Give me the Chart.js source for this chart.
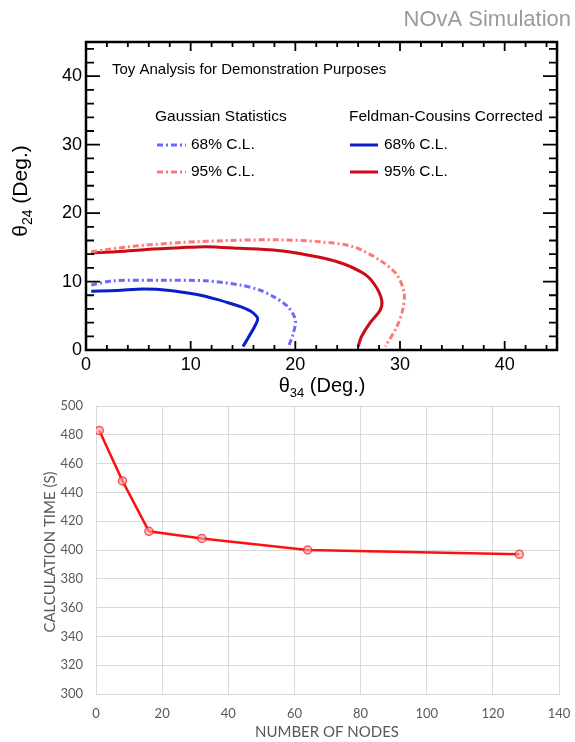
<!DOCTYPE html>
<html>
<head>
<meta charset="utf-8">
<script src="https://cdn.jsdelivr.net/npm/chart.js@4/dist/chart.umd.min.js"></script>
<style>
  html,body{margin:0;padding:0;background:#fff;}
  body{width:575px;height:742px;position:relative;overflow:hidden;}
  #c1{position:absolute;left:0;top:0;}
  #c2{position:absolute;left:0;top:400px;}
</style>
</head>
<body>
<canvas id="c1" width="575" height="400"></canvas>
<canvas id="c2" width="575" height="342"></canvas>
<script>
// ---------- Top chart data (theta34 vs theta24 contours, degrees) ----------
const fc68X = [0.5, 3.0, 5.5, 8.0, 10.6, 12.5, 13.8, 15.0, 15.8, 16.4, 16.1, 15.5, 15.0];
const fc68Y = [8.6, 8.7, 8.9, 8.7, 8.1, 7.4, 6.8, 6.2, 5.6, 4.6, 3.4, 1.8, 0.5];
const gs68X = [0.5, 2.6, 7.4, 11.5, 14.7, 16.5, 17.9, 19.3, 20.0, 19.8, 19.4];
const gs68Y = [9.5, 10.1, 10.2, 10.1, 9.5, 8.8, 7.8, 6.3, 4.4, 2.4, 0.7];
const fc95X = [0.5, 3.2, 5.8, 9.0, 11.5, 14.7, 17.9, 20.4, 24.0, 26.5, 27.6, 28.25, 28.1, 27.1, 26.3, 26.0];
const fc95Y = [14.2, 14.4, 14.7, 14.95, 15.1, 14.85, 14.6, 14.1, 12.9, 11.2, 9.5, 7.3, 5.8, 3.9, 1.9, 0.5];
const gs95X = [0.5, 4.2, 9.0, 13.8, 18.5, 22.4, 25.5, 28.1, 29.7, 30.4, 30.25, 29.7, 28.6];
const gs95Y = [14.35, 15.1, 15.7, 16.0, 16.1, 15.8, 15.1, 13.1, 11.0, 8.3, 5.8, 3.4, 0.5];
const topTickLabels = ['0', '10', '20', '30', '40'];

// ---------- Bottom chart data ----------
const nodes = [1, 8, 16, 32, 64, 128];
const calcTimes = [483, 448, 413, 408, 400, 397];
const bottomXTicks = ['0','20','40','60','80','100','120','140'];
const bottomYTicks = ['300','320','340','360','380','400','420','440','460','480','500'];

const pts = (xs, ys) => xs.map((x, i) => ({x: x, y: ys[i]}));

const C_BLUE = '#0a1ec8', C_RED = '#cc0a16', C_LBLUE = '#6a6aff', C_LRED = '#ff7878';
const DASHDOT = [6, 3, 2, 3];
const TOPFONT = '"Liberation Sans", Arial, sans-serif';

function noPad(s) { s.paddingTop = 0; s.paddingBottom = 0; s.paddingLeft = 0; s.paddingRight = 0; }

function drawSubText(ctx, x, y, main, sub, rest, size, subSize) {
  ctx.font = size + 'px ' + TOPFONT;
  const w1 = ctx.measureText(main).width;
  const w3 = ctx.measureText(rest).width;
  ctx.font = subSize + 'px ' + TOPFONT;
  const w2 = ctx.measureText(sub).width;
  let sx = x - (w1 + w2 + w3) / 2;
  ctx.textAlign = 'left';
  ctx.textBaseline = 'alphabetic';
  ctx.font = size + 'px ' + TOPFONT;
  ctx.fillText(main, sx, y);
  ctx.font = subSize + 'px ' + TOPFONT;
  ctx.fillText(sub, sx + w1, y + 5);
  ctx.font = size + 'px ' + TOPFONT;
  ctx.fillText(rest, sx + w1 + w2, y);
}

const topDeco = {
  id: 'topDeco',
  afterDraw(chart) {
    const ctx = chart.ctx, a = chart.chartArea;
    const xs = chart.scales.x, ys = chart.scales.y;
    ctx.save();
    ctx.strokeStyle = '#000';
    ctx.lineWidth = 2.5;
    ctx.setLineDash([]);
    ctx.strokeRect(a.left, a.top, a.right - a.left, a.bottom - a.top);
    ctx.lineWidth = 1.8;
    ctx.beginPath();
    for (let v = 2; v < 45; v += 2) {
      const major = v % 10 === 0;
      const px = xs.getPixelForValue(v);
      const lx = major ? 9 : 5;
      ctx.moveTo(px, a.bottom); ctx.lineTo(px, a.bottom - lx);
      ctx.moveTo(px, a.top); ctx.lineTo(px, a.top + lx);
      const py = ys.getPixelForValue(v);
      const ly = major ? 14 : 8;
      ctx.moveTo(a.left, py); ctx.lineTo(a.left + ly, py);
      ctx.moveTo(a.right, py); ctx.lineTo(a.right - ly, py);
    }
    ctx.stroke();

    ctx.fillStyle = '#9a9a9a';
    ctx.font = '22px ' + TOPFONT;
    ctx.textAlign = 'right';
    ctx.textBaseline = 'middle';
    ctx.fillText('NOvA Simulation', 571, 20);

    ctx.fillStyle = '#000';
    ctx.font = '15px ' + TOPFONT;
    ctx.textAlign = 'left';
    ctx.fillText('Toy Analysis for Demonstration Purposes', 112, 70);

    ctx.font = '15.5px ' + TOPFONT;
    ctx.fillText('Gaussian Statistics', 155, 117);
    ctx.fillText('Feldman-Cousins Corrected', 349, 117);
    ctx.fillText('68% C.L.', 191, 145);
    ctx.fillText('95% C.L.', 191, 172);
    ctx.fillText('68% C.L.', 384, 145);
    ctx.fillText('95% C.L.', 384, 172);
    const sample = (x1, x2, y, col, dash) => {
      ctx.beginPath();
      ctx.strokeStyle = col;
      ctx.lineWidth = 3;
      ctx.setLineDash(dash);
      ctx.moveTo(x1, y); ctx.lineTo(x2, y);
      ctx.stroke();
    };
    sample(157, 186, 145, C_LBLUE, DASHDOT);
    sample(157, 186, 172, C_LRED, DASHDOT);
    sample(350, 378, 145, C_BLUE, []);
    sample(350, 378, 172, C_RED, []);
    ctx.setLineDash([]);

    ctx.fillStyle = '#000';
    drawSubText(ctx, 322, 392, 'θ', '34', ' (Deg.)', 20, 13);
    ctx.save();
    ctx.translate(27, 191);
    ctx.rotate(-Math.PI / 2);
    drawSubText(ctx, 0, 0, 'θ', '24', ' (Deg.)', 21, 14);
    ctx.restore();
    ctx.restore();
  }
};

new Chart(document.getElementById('c1'), {
  type: 'scatter',
  data: {
    datasets: [
      {label: 'Gaussian 95% C.L.', data: pts(gs95X, gs95Y), borderColor: C_LRED, borderDash: DASHDOT},
      {label: 'Gaussian 68% C.L.', data: pts(gs68X, gs68Y), borderColor: C_LBLUE, borderDash: DASHDOT},
      {label: 'FC 95% C.L.', data: pts(fc95X, fc95Y), borderColor: C_RED},
      {label: 'FC 68% C.L.', data: pts(fc68X, fc68Y), borderColor: C_BLUE}
    ].map(d => Object.assign({showLine: true, pointRadius: 0, borderWidth: 3, tension: 0.3, fill: false}, d))
  },
  options: {
    responsive: false,
    animation: false,
    devicePixelRatio: 1,
    layout: {padding: {top: 42, right: 18, left: 0, bottom: 0}},
    plugins: {legend: {display: false}, tooltip: {enabled: false}},
    scales: {
      x: {
        type: 'linear', min: 0, max: 45,
        grid: {display: false, drawTicks: false}, border: {display: false},
        ticks: {stepSize: 10, includeBounds: false, padding: 4, color: '#000', maxRotation: 0,
          font: {family: TOPFONT, size: 18},
          callback: (v) => topTickLabels[topTickLabels.indexOf(String(v))] ?? ''},
        afterFit: (s) => { s.height = 50; noPad(s); }
      },
      y: {
        type: 'linear', min: 0, max: 45,
        grid: {display: false, drawTicks: false}, border: {display: false},
        ticks: {stepSize: 10, includeBounds: false, padding: 4, color: '#000',
          font: {family: TOPFONT, size: 18},
          callback: (v) => topTickLabels[topTickLabels.indexOf(String(v))] ?? ''},
        afterFit: (s) => { s.width = 86; noPad(s); }
      }
    }
  },
  plugins: [topDeco]
});

// ---------- Bottom chart ----------
const BFONT = 'Lato, "Open Sans", sans-serif';
const bottomDeco = {
  id: 'bottomDeco',
  afterDraw(chart) {
    const ctx = chart.ctx;
    ctx.save();
    ctx.fillStyle = '#595959';
    ctx.font = '15px ' + BFONT;
    ctx.textAlign = 'center';
    ctx.textBaseline = 'middle';
    ctx.fillText('NUMBER OF NODES', 327, 332);
    ctx.translate(50, 152);
    ctx.rotate(-Math.PI / 2);
    ctx.fillText('CALCULATION TIME (S)', 0, 0);
    ctx.restore();
  }
};

new Chart(document.getElementById('c2'), {
  type: 'scatter',
  data: {
    datasets: [{
      label: 'Calculation time',
      data: pts(nodes, calcTimes),
      showLine: true,
      borderColor: '#ff1010',
      borderWidth: 2.5,
      tension: 0,
      pointRadius: 4,
      pointBorderWidth: 1.5,
      pointBorderColor: 'rgba(240,40,40,0.75)',
      pointBackgroundColor: 'rgba(255,170,170,0.6)'
    }]
  },
  options: {
    responsive: false,
    animation: false,
    devicePixelRatio: 1,
    layout: {padding: {top: 6, right: 16, left: 0, bottom: 0}},
    plugins: {legend: {display: false}, tooltip: {enabled: false}},
    scales: {
      x: {
        type: 'linear', min: 0, max: 140,
        grid: {color: '#d9d9d9', lineWidth: 1, drawTicks: false},
        border: {color: '#d9d9d9'},
        ticks: {stepSize: 20, padding: 12, color: '#595959', maxRotation: 0,
          font: {family: BFONT, size: 13},
          callback: (v) => bottomXTicks[bottomXTicks.indexOf(String(v))] ?? ''},
        afterFit: (s) => { s.height = 48; noPad(s); }
      },
      y: {
        type: 'linear', min: 300, max: 500,
        grid: {color: '#d9d9d9', lineWidth: 1, drawTicks: false},
        border: {color: '#d9d9d9'},
        ticks: {stepSize: 20, padding: 13, color: '#595959',
          font: {family: BFONT, size: 13},
          callback: (v) => bottomYTicks[bottomYTicks.indexOf(String(v))] ?? ''},
        afterFit: (s) => { s.width = 96; noPad(s); }
      }
    }
  },
  plugins: [bottomDeco]
});
</script>
</body>
</html>
